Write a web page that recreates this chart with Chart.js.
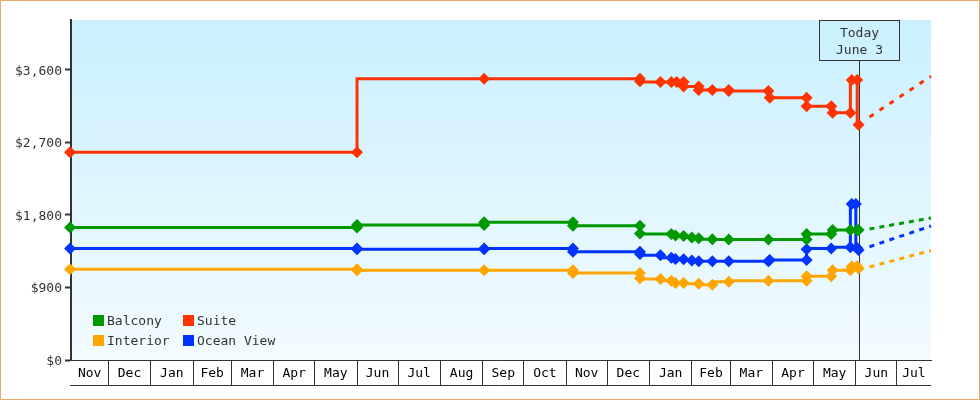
<!DOCTYPE html>
<html><head><meta charset="utf-8">
<style>
html,body{margin:0;padding:0;background:#fff;width:980px;height:400px;overflow:hidden}
#frame{position:absolute;left:0;top:0;width:978px;height:398px;border:1px solid #E8AA66;pointer-events:none}
canvas{position:absolute;left:0;top:0}
</style>
<script src="https://cdn.jsdelivr.net/npm/chart.js@4"></script>
</head><body>
<canvas id="c" width="980" height="400"></canvas>
<div id="frame"></div>
<script>
// Days are counted from the first visible December 1st.
const axisStart = -27.3, axisEnd = 602, todayDay = 549;
const monthEdges = [0,31,62,90,121,151,182,212,243,274,304,335,365,396,427,455,486,516,547,577];
const monthNames = ['Nov','Dec','Jan','Feb','Mar','Apr','May','Jun','Jul','Aug','Sep','Oct','Nov','Dec','Jan','Feb','Mar','Apr','May','Jun','Jul'];
const yTicks = [0,900,1800,2700,3600];
const yMax = 4220;

const balconyDays   = [-28,182,182,275,275,340,340,389,389,412,415,421,427,432,442,454,483,511,511,529,530,543,548,549];
const balconyPrices = [1645,1645,1675,1675,1710,1710,1665,1665,1570,1565,1545,1540,1520,1510,1500,1495,1495,1495,1565,1565,1615,1615,1610,1615];

const suiteDays   = [-28,182,275,389,389,404,412,416,421,421,432,432,442,454,454,483,484,511,511,529,530,543,544,548,549];
const suitePrices = [2580,2580,3490,3490,3460,3450,3450,3450,3450,3395,3395,3350,3350,3350,3340,3340,3255,3255,3150,3150,3070,3070,3475,3475,2920];

const oceanDays   = [-28,182,182,275,275,340,340,389,389,404,412,415,421,427,432,442,454,483,484,511,511,529,543,544,547,548,549];
const oceanPrices = [1385,1385,1375,1375,1385,1385,1345,1345,1315,1300,1270,1255,1250,1235,1225,1225,1225,1225,1240,1240,1375,1385,1400,1935,1935,1390,1365];

const interiorDays   = [-28,182,182,275,340,340,389,389,404,412,415,421,432,442,454,483,511,511,529,530,543,544,548,549];
const interiorPrices = [1125,1125,1115,1115,1115,1080,1080,1015,1005,985,955,955,945,935,970,985,985,1040,1040,1115,1115,1160,1165,1135];

const projectionDays = [557,602];
const balconyProjection  = [1626,1763];
const suiteProjection    = [3017,3522];
const oceanProjection    = [1406,1663];
const interiorProjection = [1155,1359];

const seriesNames = ['Balcony','Suite','Interior','Ocean View'];
const colors = {Balcony:'#009900',Suite:'#FF3300',Interior:'#FFA500','Ocean View':'#0033FF'};
const todayLines = ['Today','June 3'];

const FAMILY = '"DejaVu Sans Mono", monospace';
const FONT = '13px '+FAMILY;
const zip = (xs,ys) => xs.map((x,i)=>({x,y:ys[i]}));
const solid = (label,xs,ys) => ({label,data:zip(xs,ys),borderColor:colors[label],backgroundColor:colors[label],
  borderWidth:3,stepped:'after',pointStyle:'rectRot',pointRadius:6,pointBorderWidth:0,clip:false});
const dashed = (label,ys,gap) => ({label:label+' projection',data:zip(projectionDays,ys),borderColor:colors[label],
  borderWidth:3,borderDash:[5,gap],pointRadius:0,clip:false});

const midpoints = [];
const edgesAll = [axisStart,...monthEdges,axisEnd];
for(let i=0;i<edgesAll.length-1;i++) midpoints.push((edgesAll[i]+edgesAll[i+1])/2);

const decor = {
  id:'decor',
  beforeDatasetsDraw(chart){
    const {ctx,chartArea:a,scales:{x}} = chart;
    const tx = Math.round(x.getPixelForValue(todayDay))+0.5;
    ctx.save();
    ctx.strokeStyle='#333'; ctx.lineWidth=1;
    ctx.beginPath(); ctx.moveTo(tx,60); ctx.lineTo(tx,a.bottom); ctx.stroke();
    ctx.strokeRect(819.5,20.5,80,40);
    ctx.fillStyle='#333'; ctx.font=FONT; ctx.textAlign='center'; ctx.textBaseline='middle';
    ctx.fillText(todayLines[0],859.5,34);
    ctx.fillText(todayLines[1],859.5,51);
    ctx.restore();
  },
  beforeDraw(chart){
    const {ctx,chartArea:a} = chart;
    const g = ctx.createLinearGradient(0,a.top,0,a.bottom);
    g.addColorStop(0,'#CAF0FF'); g.addColorStop(1,'#F3FBFF');
    ctx.save(); ctx.fillStyle=g; ctx.fillRect(a.left,a.top,a.right-a.left,a.bottom-a.top); ctx.restore();
  },
  afterDraw(chart){
    const {ctx,chartArea:a} = chart;
    ctx.save();
    ctx.strokeStyle='#333'; ctx.lineWidth=1;
    ctx.beginPath(); ctx.moveTo(a.left-1,385.5); ctx.lineTo(a.right,385.5); ctx.stroke();
    const cols=[93,183], rows=[315,335];
    seriesNames.forEach((n,i)=>{
      const sx=cols[i%2], sy=rows[Math.floor(i/2)];
      ctx.fillStyle=colors[n]; ctx.fillRect(sx,sy,11,11);
      ctx.fillStyle='#333'; ctx.font=FONT; ctx.textAlign='left'; ctx.textBaseline='middle';
      ctx.fillText(n,sx+14,sy+6.5);
    });
    ctx.restore();
  }
};

new Chart(document.getElementById('c'),{
  type:'line',
  data:{datasets:[
    solid('Balcony',balconyDays,balconyPrices),
    solid('Suite',suiteDays,suitePrices),
    solid('Ocean View',oceanDays,oceanPrices),
    solid('Interior',interiorDays,interiorPrices),
    dashed('Balcony',balconyProjection,5),
    dashed('Suite',suiteProjection,7),
    dashed('Ocean View',oceanProjection,5.5),
    dashed('Interior',interiorProjection,5.3)
  ]},
  options:{
    responsive:false,animation:false,devicePixelRatio:1,
    layout:{padding:{left:0,right:49,top:20,bottom:0}},
    plugins:{legend:{display:false},tooltip:{enabled:false}},
    events:[],
    scales:{
      x:{
        type:'linear',min:axisStart,max:axisEnd,
        afterFit(s){s.height=40;},
        afterBuildTicks(s){
          const t=[...monthEdges.map(v=>({value:v})),...midpoints.map(v=>({value:v}))];
          t.sort((a,b)=>a.value-b.value); s.ticks=t;
        },
        border:{color:'#333',width:1},
        grid:{drawOnChartArea:false,drawTicks:true,tickLength:25,lineWidth:1,
          tickColor:c=>monthEdges.includes(c.tick&&c.tick.value)?'#333':'rgba(0,0,0,0)'},
        ticks:{autoSkip:false,maxRotation:0,minRotation:0,padding:-19,color:'#000',font:{family:FAMILY,size:13},
          callback(v){const i=midpoints.indexOf(v);return i>=0?monthNames[i]:'';}}
      },
      y:{
        min:0,max:yMax,
        afterFit(s){s.width=71;},
        afterBuildTicks(s){s.ticks=yTicks.map(v=>({value:v}));},
        border:{color:'#333',width:2},
        grid:{drawOnChartArea:false,drawTicks:true,tickLength:6,tickWidth:2,tickColor:'#333'},
        ticks:{padding:3,color:'#333',font:{family:FAMILY,size:13,lineHeight:'3px'},
          callback(v){return ['','$'+v.toLocaleString('en-US')];}}
      }
    }
  },
  plugins:[decor]
});
</script>
</body></html>
